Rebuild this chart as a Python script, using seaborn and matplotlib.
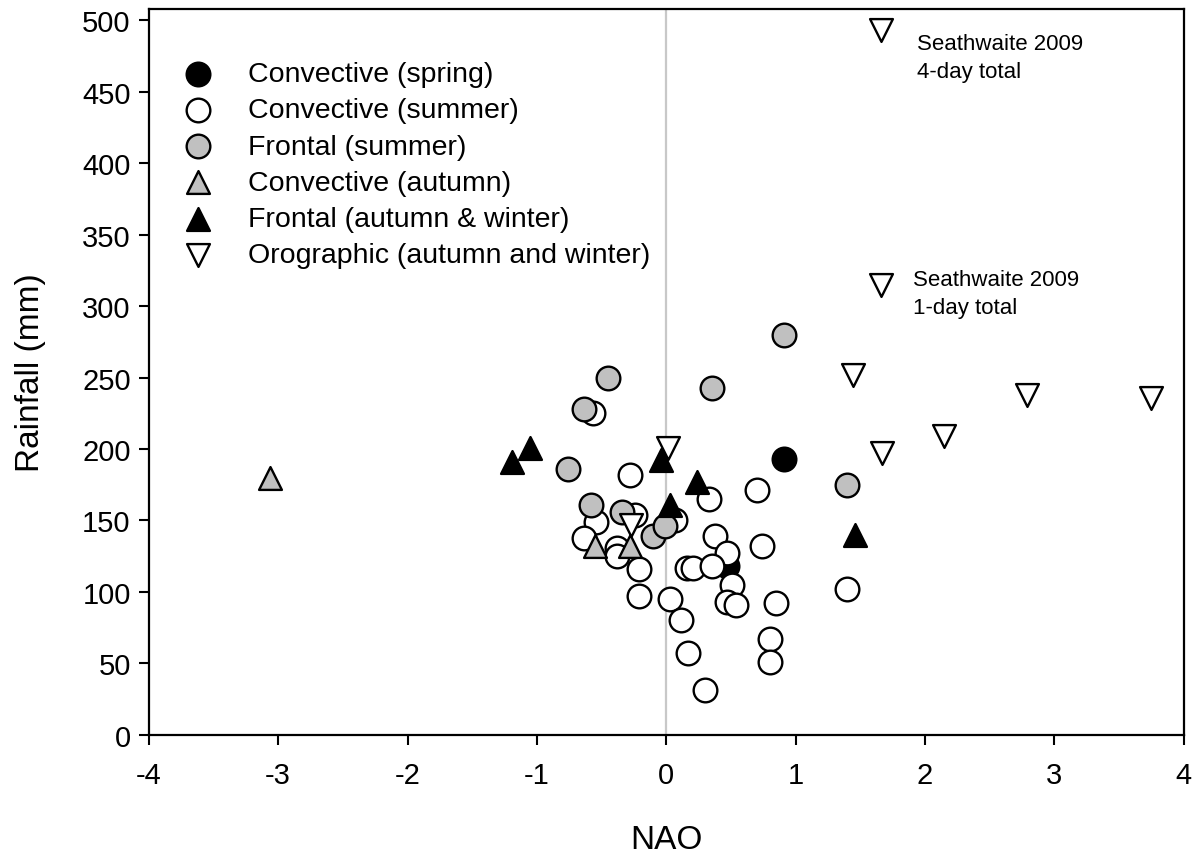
import matplotlib
matplotlib.use("Agg")
import matplotlib.pyplot as plt
import seaborn as sns
import pandas as pd

# NAO index vs. event rainfall (mm), grouped by storm type and season
conv_spring_nao = [0.91, 0.47]
conv_spring_rain = [193, 118]

conv_summer_nao = [-0.57, -0.28, 0.33, 0.70, -0.24, -0.54, -0.64, -0.38, -0.38,
                   0.07, -0.21, -0.21, 0.03, 0.11, 0.17, 0.30, 0.38, 0.47, 0.16,
                   0.21, 0.35, 0.51, 0.47, 0.54, 0.74, 0.85, 0.80, 0.80, 1.40]
conv_summer_rain = [225, 182, 165, 171, 154, 149, 138, 131, 125,
                    150, 116, 97, 95, 80, 57, 31, 139, 127, 117,
                    117, 118, 105, 93, 91, 132, 92, 67, 51, 102]

front_summer_nao = [0.91, -0.45, -0.64, 0.35, -0.76, -0.58, -0.34, -0.10, -0.01, 1.40]
front_summer_rain = [280, 250, 228, 243, 186, 161, 156, 139, 146, 175]

conv_autumn_nao = [-3.06, -0.55, -0.28]
conv_autumn_rain = [180, 132, 132]

front_aw_nao = [-1.19, -1.05, -0.04, 0.24, 0.03, 1.46]
front_aw_rain = [191, 201, 192, 177, 161, 140]

oro_nao = [1.66, 1.66, 1.44, 1.67, 2.15, 2.79, 3.75, 0.01, -0.27]
oro_rain = [493, 315, 252, 197, 209, 238, 236, 201, 147]

groups = [
    ("Convective (spring)", conv_spring_nao, conv_spring_rain, "o", "black", 290),
    ("Convective (summer)", conv_summer_nao, conv_summer_rain, "o", "white", 290),
    ("Frontal (summer)", front_summer_nao, front_summer_rain, "o", "#c0c0c0", 290),
    ("Convective (autumn)", conv_autumn_nao, conv_autumn_rain, "^", "#c0c0c0", 270),
    ("Frontal (autumn & winter)", front_aw_nao, front_aw_rain, "^", "black", 270),
    ("Orographic (autumn and winter)", oro_nao, oro_rain, "v", "white", 270),
]

sns.set_theme(style="ticks", rc={
    "text.color": "black", "axes.labelcolor": "black",
    "xtick.color": "black", "ytick.color": "black",
    "axes.edgecolor": "black", "axes.unicode_minus": False,
})
plt.rcParams["font.family"] = ["Liberation Sans", "DejaVu Sans"]

fig = plt.figure(figsize=(12, 8.62), dpi=100)
ax = fig.add_axes([0.124, 0.1465, 0.8625, 0.842])

ax.axvline(0, color="#c8c8c8", lw=1.6, zorder=1)

for i, (label, xs, ys, mk, fc, size) in enumerate(groups):
    df = pd.DataFrame({"NAO": xs, "Rainfall": ys})
    sns.scatterplot(data=df, x="NAO", y="Rainfall", marker=mk, color=fc,
                    edgecolor="black", linewidth=1.7, s=size, label=label,
                    ax=ax, zorder=3 + i)

ax.text(1.936, 474, "Seathwaite 2009\n4-day total", ha="left", va="center",
        fontsize=16, linespacing=1.45)
ax.text(1.905, 309, "Seathwaite 2009\n1-day total", ha="left", va="center",
        fontsize=16, linespacing=1.45)

ax.set_xlim(-4, 4)
ax.set_ylim(0, 508)
ax.set_xticks(range(-4, 5))
ax.set_yticks(range(0, 501, 50))
ax.tick_params(axis="both", direction="out", length=7, width=1.5,
               labelsize=21, pad=6, top=False, right=False)
ax.tick_params(axis="x", pad=12)
for sp in ax.spines.values():
    sp.set_linewidth(1.6)
    sp.set_visible(True)

ax.set_xlabel("NAO", fontsize=24, labelpad=25)
ax.set_ylabel("Rainfall (mm)", fontsize=24, labelpad=26)

leg = ax.legend(loc="upper left", bbox_to_anchor=(0.0203, 0.928), frameon=False,
                fontsize=20.5, markerscale=1.0, handlelength=1.95,
                handletextpad=0.8, labelspacing=0.36,
                borderpad=0, borderaxespad=0)

fig.savefig("out.png", dpi=100)
